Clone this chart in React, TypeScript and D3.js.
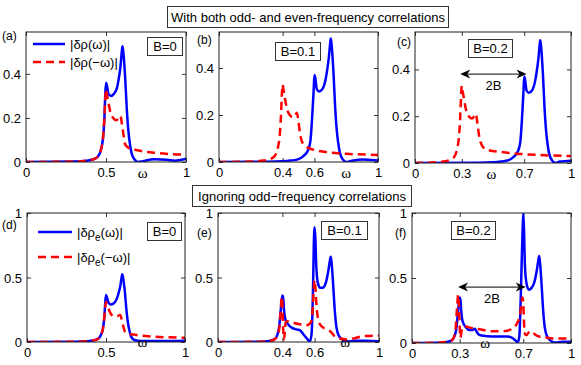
import React, { useEffect, useRef } from 'react';
import * as d3 from 'd3';

type Pt = [number, number];

// (a) B=0, odd + even
const aBlue: Pt[] = [[0, 0], [0.3, 0.002], [0.38, 0.006], [0.42, 0.012], [0.45, 0.025], [0.47, 0.06], [0.48, 0.1], [0.49, 0.2], [0.495, 0.3], [0.5, 0.36], [0.505, 0.35], [0.515, 0.31], [0.53, 0.3], [0.55, 0.31], [0.57, 0.34], [0.58, 0.38], [0.59, 0.43], [0.6, 0.51], [0.603, 0.525], [0.608, 0.5], [0.62, 0.38], [0.63, 0.24], [0.64, 0.14], [0.65, 0.08], [0.66, 0.04], [0.68, 0.01], [0.7, 0], [0.73, 0.004], [0.8, 0.012], [0.88, 0.01], [0.93, 0.006], [0.97, 0.01], [1, 0.015]];
const aRed: Pt[] = [[0, 0], [0.3, 0.002], [0.38, 0.006], [0.42, 0.012], [0.45, 0.025], [0.47, 0.06], [0.48, 0.1], [0.49, 0.2], [0.495, 0.28], [0.5, 0.33], [0.505, 0.31], [0.515, 0.27], [0.53, 0.22], [0.545, 0.2], [0.565, 0.19], [0.58, 0.2], [0.59, 0.21], [0.6, 0.17], [0.61, 0.12], [0.62, 0.08], [0.64, 0.065], [0.67, 0.058], [0.72, 0.05], [0.8, 0.042], [0.9, 0.036], [1, 0.033]];

// (b) B=0.1, odd + even
const bBlue: Pt[] = [[0, 0], [0.3, 0.001], [0.4, 0.003], [0.45, 0.006], [0.5, 0.012], [0.53, 0.025], [0.56, 0.05], [0.575, 0.09], [0.585, 0.18], [0.595, 0.3], [0.6, 0.37], [0.605, 0.36], [0.615, 0.31], [0.63, 0.3], [0.65, 0.31], [0.67, 0.35], [0.68, 0.39], [0.69, 0.44], [0.7, 0.51], [0.703, 0.525], [0.708, 0.5], [0.72, 0.38], [0.73, 0.24], [0.74, 0.14], [0.75, 0.08], [0.76, 0.04], [0.78, 0.01], [0.8, 0], [0.83, 0.004], [0.9, 0.011], [0.96, 0.008], [1, 0.006]];
const bRed: Pt[] = [[0, 0], [0.2, 0.002], [0.28, 0.006], [0.32, 0.012], [0.35, 0.025], [0.37, 0.06], [0.38, 0.1], [0.39, 0.2], [0.395, 0.28], [0.4, 0.33], [0.405, 0.31], [0.415, 0.27], [0.43, 0.22], [0.445, 0.2], [0.465, 0.19], [0.48, 0.2], [0.49, 0.21], [0.5, 0.17], [0.51, 0.12], [0.52, 0.09], [0.54, 0.07], [0.57, 0.058], [0.62, 0.048], [0.7, 0.04], [0.8, 0.035], [1, 0.03]];

// (c) B=0.2, odd + even
const cBlue: Pt[] = [[0, 0], [0.4, 0.001], [0.5, 0.003], [0.55, 0.006], [0.6, 0.012], [0.63, 0.025], [0.66, 0.05], [0.675, 0.09], [0.685, 0.18], [0.695, 0.3], [0.7, 0.37], [0.705, 0.36], [0.715, 0.31], [0.73, 0.3], [0.75, 0.31], [0.77, 0.35], [0.78, 0.39], [0.79, 0.44], [0.8, 0.51], [0.803, 0.525], [0.808, 0.5], [0.82, 0.38], [0.83, 0.24], [0.84, 0.14], [0.85, 0.08], [0.86, 0.04], [0.88, 0.01], [0.9, 0], [0.93, 0.006], [1, 0.01]];
const cRed: Pt[] = [[0, 0], [0.1, 0.002], [0.18, 0.006], [0.22, 0.012], [0.25, 0.025], [0.27, 0.06], [0.28, 0.1], [0.29, 0.2], [0.295, 0.28], [0.3, 0.33], [0.305, 0.31], [0.315, 0.27], [0.33, 0.22], [0.345, 0.2], [0.365, 0.19], [0.38, 0.2], [0.39, 0.21], [0.4, 0.17], [0.41, 0.12], [0.42, 0.09], [0.44, 0.065], [0.47, 0.055], [0.55, 0.047], [0.65, 0.04], [0.8, 0.034], [1, 0.03]];

// (d) B=0, even only
const dBlue: Pt[] = [[0, 0], [0.3, 0.002], [0.38, 0.006], [0.42, 0.012], [0.45, 0.025], [0.47, 0.06], [0.48, 0.1], [0.49, 0.2], [0.495, 0.3], [0.5, 0.365], [0.505, 0.35], [0.515, 0.31], [0.53, 0.29], [0.55, 0.3], [0.57, 0.34], [0.58, 0.38], [0.59, 0.43], [0.6, 0.51], [0.603, 0.525], [0.608, 0.5], [0.62, 0.38], [0.63, 0.24], [0.64, 0.14], [0.65, 0.08], [0.66, 0.04], [0.68, 0.015], [0.72, 0.008], [0.8, 0.008], [0.9, 0.008], [1, 0.01]];
const dRed: Pt[] = [[0, 0], [0.3, 0.002], [0.38, 0.006], [0.42, 0.012], [0.45, 0.025], [0.47, 0.06], [0.48, 0.1], [0.49, 0.2], [0.495, 0.27], [0.5, 0.31], [0.505, 0.3], [0.515, 0.26], [0.53, 0.22], [0.55, 0.2], [0.57, 0.2], [0.59, 0.21], [0.6, 0.17], [0.61, 0.12], [0.62, 0.08], [0.64, 0.065], [0.67, 0.058], [0.72, 0.05], [0.8, 0.042], [0.9, 0.036], [1, 0.033]];

// (e) B=0.1, even only
const eBlue: Pt[] = [[0, 0], [0.25, 0.002], [0.32, 0.008], [0.35, 0.02], [0.37, 0.06], [0.38, 0.12], [0.39, 0.25], [0.4, 0.36], [0.405, 0.34], [0.41, 0.25], [0.42, 0.17], [0.44, 0.13], [0.46, 0.11], [0.48, 0.1], [0.5, 0.095], [0.51, 0.09], [0.53, 0.06], [0.55, 0.03], [0.57, 0.005], [0.58, 0.05], [0.59, 0.4], [0.595, 0.75], [0.6, 0.89], [0.605, 0.8], [0.61, 0.6], [0.62, 0.46], [0.635, 0.42], [0.65, 0.42], [0.67, 0.46], [0.685, 0.55], [0.695, 0.63], [0.7, 0.66], [0.705, 0.62], [0.715, 0.45], [0.725, 0.25], [0.735, 0.12], [0.75, 0.05], [0.77, 0.02], [0.8, 0.003], [0.85, 0.01], [0.92, 0.01], [1, 0.005]];
const eRed: Pt[] = [[0, 0], [0.25, 0.002], [0.32, 0.008], [0.35, 0.02], [0.37, 0.05], [0.38, 0.1], [0.39, 0.25], [0.395, 0.35], [0.4, 0.3], [0.405, 0.1], [0.41, 0.02], [0.415, 0.08], [0.42, 0.15], [0.43, 0.16], [0.45, 0.155], [0.5, 0.14], [0.55, 0.13], [0.575, 0.15], [0.585, 0.2], [0.592, 0.35], [0.6, 0.48], [0.605, 0.42], [0.612, 0.28], [0.625, 0.16], [0.645, 0.12], [0.67, 0.1], [0.7, 0.08], [0.72, 0.05], [0.75, 0.03], [0.8, 0.02], [0.85, 0.03], [0.9, 0.045], [1, 0.05]];

// (f) B=0.2, even only
const fBlue: Pt[] = [[0, 0], [0.15, 0.002], [0.22, 0.008], [0.25, 0.02], [0.27, 0.06], [0.28, 0.12], [0.29, 0.25], [0.3, 0.35], [0.305, 0.33], [0.31, 0.24], [0.32, 0.16], [0.34, 0.12], [0.36, 0.1], [0.38, 0.1], [0.395, 0.11], [0.405, 0.09], [0.42, 0.065], [0.45, 0.055], [0.5, 0.05], [0.55, 0.05], [0.6, 0.05], [0.63, 0.04], [0.65, 0.02], [0.665, 0.005], [0.675, 0.05], [0.685, 0.4], [0.695, 0.85], [0.7, 1.0], [0.705, 0.85], [0.71, 0.6], [0.72, 0.46], [0.735, 0.41], [0.75, 0.42], [0.77, 0.47], [0.785, 0.56], [0.795, 0.64], [0.8, 0.67], [0.805, 0.62], [0.815, 0.45], [0.825, 0.25], [0.835, 0.12], [0.85, 0.05], [0.87, 0.02], [0.9, 0.003], [0.95, 0.01], [1, 0.01]];
const fRed: Pt[] = [[0, 0], [0.15, 0.002], [0.22, 0.008], [0.25, 0.02], [0.265, 0.05], [0.275, 0.12], [0.285, 0.3], [0.29, 0.37], [0.295, 0.3], [0.3, 0.12], [0.305, 0.04], [0.31, 0.08], [0.32, 0.12], [0.33, 0.13], [0.36, 0.12], [0.4, 0.11], [0.45, 0.1], [0.5, 0.09], [0.55, 0.09], [0.6, 0.095], [0.63, 0.11], [0.66, 0.15], [0.68, 0.22], [0.69, 0.32], [0.695, 0.35], [0.7, 0.3], [0.705, 0.15], [0.71, 0.07], [0.72, 0.06], [0.74, 0.09], [0.76, 0.08], [0.78, 0.06], [0.8, 0.05], [0.85, 0.04], [0.9, 0.035], [1, 0.035]];

const topYTicks = [0, 0.2, 0.4];
const bottomYTicks = [0, 0.5, 1];
const xTicksB0 = [0, 0.5, 1];
const xTicksB1 = [0, 0.4, 0.6, 1];
const xTicksB2 = [0, 0.3, 0.7, 1];

const topTitle = 'With both odd- and even-frequency correlations';
const bottomTitle = 'Ignoring odd\u2212frequency correlations';
const arrowSpan = [0.29, 0.715];

const SANS = '"Liberation Sans", Arial, Helvetica, sans-serif';
const SERIF = '"Liberation Serif", "Times New Roman", serif';

const panels = [
  { label: '(a)', lx: 2, ly: 40, x0: 26, x1: 186, y0: 32, y1: 162, ymax: 0.59, yTicks: topYTicks, xTicks: xTicksB0, blue: aBlue, red: aRed, bText: 'B=0', bx: 147, by: 37, bw: 35, omega: 0.73, legend: 'top' },
  { label: '(b)', lx: 197, ly: 44, x0: 219, x1: 378, y0: 32, y1: 162, ymax: 0.553, yTicks: topYTicks, xTicks: xTicksB1, blue: bBlue, red: bRed, bText: 'B=0.1', bx: 275, by: 42, bw: 45, omega: 0.8 },
  { label: '(c)', lx: 397, ly: 46, x0: 415, x1: 571, y0: 32, y1: 163, ymax: 0.56, yTicks: topYTicks, xTicks: xTicksB2, blue: cBlue, red: cRed, bText: 'B=0.2', bx: 468, by: 39, bw: 44, omega: 0.49, arrowV: 0.38 },
  { label: '(d)', lx: 2, ly: 229, x0: 27, x1: 185, y0: 213, y1: 342, ymax: 1, yTicks: bottomYTicks, xTicks: xTicksB0, blue: dBlue, red: dRed, bText: 'B=0', bx: 147, by: 222, bw: 34, omega: 0.73, legend: 'bottom' },
  { label: '(e)', lx: 197, ly: 237, x0: 218, x1: 379, y0: 213, y1: 342, ymax: 1, yTicks: bottomYTicks, xTicks: xTicksB1, blue: eBlue, red: eRed, bText: 'B=0.1', bx: 321, by: 221, bw: 46, omega: 0.79 },
  { label: '(f)', lx: 395, ly: 237, x0: 412, x1: 571, y0: 213, y1: 343, ymax: 1, yTicks: bottomYTicks, xTicks: xTicksB2, blue: fBlue, red: fRed, bText: 'B=0.2', bx: 451, by: 221, bw: 44, omega: 0.46, arrowV: 0.43 },
];

const App = () => {
  const ref = useRef<SVGSVGElement>(null);

  useEffect(() => {
    const svg = d3.select(ref.current);
    svg.selectAll('*').remove();

    const defs = svg.append('defs');

    // titles
    const title = (text: string, x0: number, y0: number, w: number) => {
      svg.append('rect').attr('x', x0 + 0.5).attr('y', y0 + 0.5).attr('width', w).attr('height', 21)
        .attr('fill', '#fff').attr('stroke', '#333');
      svg.append('text').attr('x', x0 + w / 2 + 0.5).attr('y', y0 + 15.5).attr('text-anchor', 'middle')
        .attr('font-family', SANS).attr('font-size', 13).text(text);
    };

    panels.forEach((p, i) => {
      const x = d3.scaleLinear().domain([0, 1]).range([p.x0, p.x1]);
      const y = d3.scaleLinear().domain([0, p.ymax]).range([p.y1, p.y0]);
      const g = svg.append('g');

      defs.append('clipPath').attr('id', `clip${i}`).append('rect')
        .attr('x', p.x0).attr('y', p.y0).attr('width', p.x1 - p.x0).attr('height', p.y1 - p.y0);

      // axes with inward ticks, mirrored on top and right
      const fmt = (d: any) => String(d);
      const xb = g.append('g').attr('transform', `translate(0,${p.y1})`)
        .call(d3.axisBottom(x).tickValues(p.xTicks).tickSize(-4).tickPadding(6).tickFormat(fmt));
      g.append('g').attr('transform', `translate(0,${p.y0})`)
        .call(d3.axisTop(x).tickValues(p.xTicks).tickSize(-4).tickFormat(() => ''));
      const yl = g.append('g').attr('transform', `translate(${p.x0},0)`)
        .call(d3.axisLeft(y).tickValues(p.yTicks).tickSize(-4).tickPadding(5).tickFormat(fmt));
      g.append('g').attr('transform', `translate(${p.x1},0)`)
        .call(d3.axisRight(y).tickValues(p.yTicks).tickSize(-4).tickFormat(() => ''));
      g.selectAll('.domain').remove();
      g.selectAll('.tick line').attr('stroke', '#333');
      [xb, yl].forEach((a) => a.selectAll('text').attr('font-family', SANS).attr('font-size', 13).attr('fill', '#000'));
      yl.selectAll('text').attr('dy', '0.35em');

      // curves
      const line = d3.line<Pt>().x((d) => x(d[0])).y((d) => y(d[1])).curve(d3.curveMonotoneX);
      const cg = g.append('g').attr('clip-path', `url(#clip${i})`);
      cg.append('path').attr('d', line(p.blue)).attr('fill', 'none').attr('stroke', '#0000ff').attr('stroke-width', 2.5)
        .attr('stroke-linejoin', 'round');
      cg.append('path').attr('d', line(p.red)).attr('fill', 'none').attr('stroke', '#ff0000').attr('stroke-width', 2.5)
        .attr('stroke-dasharray', '8,5');

      // box
      g.append('rect').attr('x', p.x0).attr('y', p.y0).attr('width', p.x1 - p.x0).attr('height', p.y1 - p.y0)
        .attr('fill', 'none').attr('stroke', '#222').attr('stroke-width', 1);

      // panel label, omega
      g.append('text').attr('x', p.lx).attr('y', p.ly).attr('font-family', SANS).attr('font-size', 12).text(p.label);
      g.append('text').attr('x', x(p.omega)).attr('y', p.y1 + (p.y0 < 100 ? 16 : 5)).attr('text-anchor', 'middle')
        .attr('font-family', SERIF).attr('font-size', 15).text('\u03c9');

      // B box
      g.append('rect').attr('x', p.bx + 0.5).attr('y', p.by + 0.5).attr('width', p.bw).attr('height', 18)
        .attr('fill', '#fff').attr('stroke', '#333');
      g.append('text').attr('x', p.bx + p.bw / 2 + 0.5).attr('y', p.by + 14).attr('text-anchor', 'middle')
        .attr('font-family', SANS).attr('font-size', 13).text(p.bText);

      // 2B arrow
      if (p.arrowV !== undefined) {
        const ay = y(p.arrowV);
        const xa = x(arrowSpan[0]);
        const xz = x(arrowSpan[1]);
        g.append('line').attr('x1', xa + 4).attr('x2', xz - 4).attr('y1', ay).attr('y2', ay).attr('stroke', '#000').attr('stroke-width', 1);
        const head = (tx: number, dir: number) =>
          `M${tx},${ay} L${tx + dir * 10},${ay - 4.5} L${tx + dir * 7},${ay} L${tx + dir * 10},${ay + 4.5} Z`;
        g.append('path').attr('d', head(xa, 1)).attr('fill', '#000');
        g.append('path').attr('d', head(xz, -1)).attr('fill', '#000');
        g.append('text').attr('x', (xa + xz) / 2).attr('y', ay + 16).attr('text-anchor', 'middle')
          .attr('font-family', SANS).attr('font-size', 13).text('2B');
      }

      // legends
      if (p.legend) {
        const lx0 = p.legend === 'top' ? 33 : 38;
        const lx1 = p.legend === 'top' ? 65 : 72;
        const ly = p.legend === 'top' ? [44, 62] : [232, 257];
        g.append('line').attr('x1', lx0).attr('x2', lx1).attr('y1', ly[0]).attr('y2', ly[0])
          .attr('stroke', '#0000ff').attr('stroke-width', 2.5);
        g.append('line').attr('x1', lx0).attr('x2', lx1).attr('y1', ly[1]).attr('y2', ly[1])
          .attr('stroke', '#ff0000').attr('stroke-width', 2.5).attr('stroke-dasharray', '8,5');
        const labels = ['(\u03c9)|', '(\u2212\u03c9)|'];
        labels.forEach((suffix, k) => {
          const t = g.append('text').attr('x', lx1 + 5).attr('y', ly[k] + 5).attr('font-family', SANS).attr('font-size', 13);
          if (p.legend === 'top') {
            t.text('|\u03b4\u03c1' + suffix);
          } else {
            t.append('tspan').text('|\u03b4\u03c1');
            t.append('tspan').attr('dy', 4).attr('font-size', 10).text('e');
            t.append('tspan').attr('dy', -4).text(suffix);
          }
        });
      }
    });

    title(topTitle, 167, 6, 281);
    title(bottomTitle, 192, 185, 219);
  }, []);

  return (
    <svg ref={ref} width={581} height={365}
      style={{ position: 'absolute', left: 0, top: 0, background: '#fff', display: 'block' }} />
  );
};

export default App;
